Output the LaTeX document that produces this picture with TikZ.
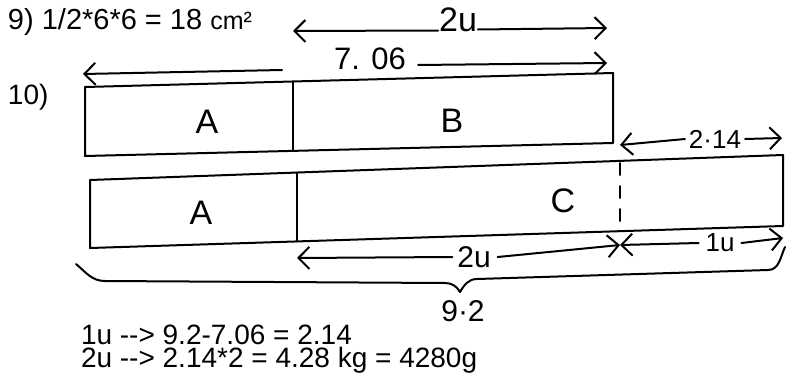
\documentclass[tikz,border=0pt]{standalone}
\usepackage{fontspec}
\setmainfont{Liberation Sans}
\usetikzlibrary{arrows.meta}
\begin{document}
\begin{tikzpicture}[x=1pt,y=-1pt,line width=2pt,line cap=round,line join=round,
  barbR/.style={-{Straight Barb[length=11pt,width=22pt]}},
  barbL/.style={{Straight Barb[length=11pt,width=22pt]}-},
  printed/.style={anchor=base west,inner sep=0pt,font=\fontsize{28}{30}\selectfont},
  hand/.style={inner sep=0pt,font=\fontsize{#1}{#1}\selectfont},
  hand/.default=32]
\useasboundingbox (0,0) rectangle (786,372);

% printed text
\node[printed,font=\fontsize{29}{30}\selectfont] (t9) at (7,29) {9) 1/2*6*6 = 18 {\fontsize{25}{25}\selectfont cm²}};
\node[printed] (t10) at (7,104) {10)};
\node[printed,align=left,font=\fontsize{28}{23}\selectfont] (tcalc) at (80,367)
  {1u -{}-{}> 9.2-7.06 = 2.14\\2u -{}-{}> 2.14*2 = 4.28 kg = 4280g};

% top bar
\coordinate (tTL) at (85,87);
\coordinate (tTR) at (613,73);
\coordinate (tBR) at (613,143);
\coordinate (tBL) at (85,156);
\coordinate (tDT) at (293,81.5);
\coordinate (tDB) at (293,151);
\draw (tTL) -- (tTR) -- (tBR) -- (tBL) -- cycle;
\draw (tDT) -- (tDB);
\node[hand=34] (lA1) at (207,122) {A};
\node[hand=34] (lB) at (452,121) {B};

% bottom bar
\coordinate (bTL) at (90,180);
\coordinate (bTR) at (783,155);
\coordinate (bBR) at (783,226);
\coordinate (bBL) at (90,248);
\coordinate (bDT) at (297,172.5);
\coordinate (bDB) at (297,241.5);
\coordinate (bXT) at (620,163);
\coordinate (bXB) at (620,231);
\draw (bTL) -- (bTR) -- (bBR) -- (bBL) -- cycle;
\draw (bDT) -- (bDB);
\draw[dash pattern=on 12pt off 11pt] (bXT) -- (bXB);
\node[hand=34] (lA2) at (201,213) {A};
\node[hand=34] (lC) at (563,201) {C};

% 2u top arrow
\node[hand=34] (l2uT) at (458,20) {2u};
\coordinate (a2L) at (293,31);
\coordinate (a2R) at (607,28);
\draw[barbL] (a2L) -- (l2uT.west |- 0,30.5);
\draw[barbR] (l2uT.east |- 0,29.5) -- (a2R);

% 7.06 arrow
\node[hand=31] (l706) at (370,59) {7. 06};
\coordinate (a7L) at (83,74);
\coordinate (a7M1) at (282,70);
\coordinate (a7M2) at (418,65);
\coordinate (a7R) at (607,63);
\draw[barbL] (a7L) -- (a7M1);
\draw[barbR] (a7M2) -- (a7R);

% 2.14 arrow
\node[hand=26] (l214) at (715,139) {2·14};
\coordinate (a3L) at (620,145);
\coordinate (a3R) at (782,138);
\draw[barbL] (a3L) -- ([xshift=-3pt]l214.west);
\draw[barbR] ([xshift=3pt]l214.east) -- (a3R);

% bottom 2u arrow
\node[hand=30] (l2uB) at (474,257) {2u};
\coordinate (a4L) at (297,258);
\coordinate (aX) at (620,245);
\draw[barbL] (a4L) -- ([xshift=-4pt]l2uB.west);
\draw[barbR] ([xshift=6pt]l2uB.east) -- (aX);

% 1u arrow
\node[hand=26] (l1u) at (720,243) {1u};
\coordinate (a5R) at (783,238);
\draw[barbL] (aX) -- ([xshift=-6pt]l1u.west);
\draw[barbR] ([xshift=6pt]l1u.east) -- (a5R);

% brace
\coordinate (brL) at (76,264);
\coordinate (brL2) at (105,281);
\coordinate (brM1) at (445,283);
\coordinate (brTip) at (460,292);
\coordinate (brM2) at (477,279);
\coordinate (brR2) at (768,270);
\coordinate (brR) at (785,247);
\draw (brL) to[out=-40,in=180] (brL2) -- (brM1) to[out=0,in=120] (brTip)
      to[out=60,in=180] (brM2) -- (brR2) to[out=0,in=-115] (brR);
\node[hand=30] (l92) at (463,311) {9·2};
\end{tikzpicture}
\end{document}
